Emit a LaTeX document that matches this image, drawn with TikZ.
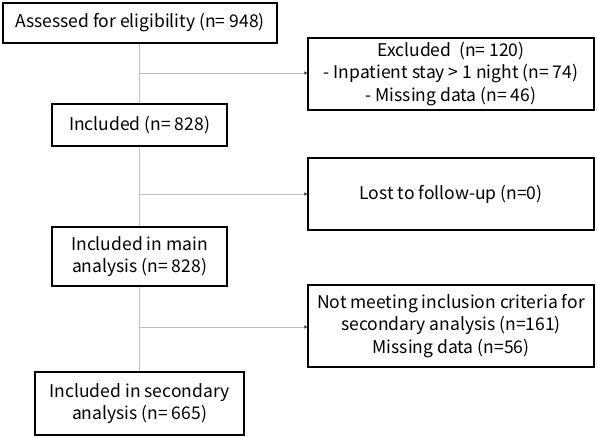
\documentclass[tikz,border=0pt]{standalone}
\usepackage{fontspec}
\setmainfont{Noto Sans CJK JP}
\usetikzlibrary{arrows.meta, positioning}

\begin{document}
\begin{tikzpicture}[x=1pt, y=-1pt,
    box/.style={draw=black, line width=1.2pt, align=center, inner sep=0pt, font=\fontsize{17.5}{22.5}\selectfont},
    link/.style={draw=black!25, line width=0.9pt},
    branch/.style={link, -{Triangle[length=3pt, width=3pt, fill=black!80, color=black!80]}}]
\useasboundingbox[fill=white] (0,0) rectangle (597,438);

% main column
\node[box, minimum width=274pt, minimum height=40pt] (elig) at (140,23) {Assessed for eligibility (n= 948)};
\node[box, minimum width=175pt, minimum height=42pt] (incl) at (139.5,125) {Included (n= 828)};
\node[box, minimum width=175pt, minimum height=59pt] (main) at (139.5,256.5) {Included in main\\analysis (n= 828)};
\node[box, minimum width=209pt, minimum height=63pt] (second) at (139.5,403.5) {Included in secondary\\analysis (n= 665)};

% side boxes
\node[box, minimum width=286pt, minimum height=72pt] (excl) at (451,74) {Excluded~ (n= 120)\\- Inpatient stay > 1 night (n= 74)\\- Missing data (n= 46)};
\node[box, minimum width=286pt, minimum height=72pt] (lost) at (451,194) {Lost to follow-up (n=0)};
\node[box, minimum width=286pt, minimum height=82pt] (notmeet) at (451,326) {Not meeting inclusion criteria for\\secondary analysis (n=161)\\Missing data (n=56)};

% trunk
\draw[link] (elig.south -| 139,0) -- (incl.north -| 139,0);
\draw[link] (incl.south -| 139,0) -- (main.north -| 139,0);
\draw[link] (main.south -| 139,0) -- (second.north -| 139,0);

% branches
\draw[branch] (139,73) coordinate (b1) -- (b1 -| excl.west);
\draw[branch] (139,194) coordinate (b2) -- (b2 -| lost.west);
\draw[branch] (139,327) coordinate (b3) -- (b3 -| notmeet.west);

\end{tikzpicture}
\end{document}
